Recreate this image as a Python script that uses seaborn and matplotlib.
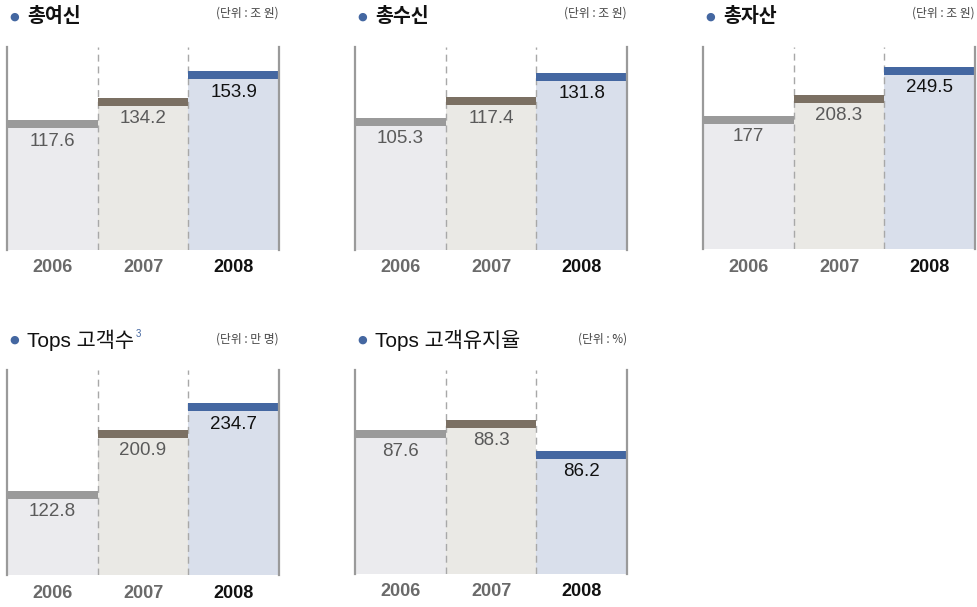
import numpy as np
import pandas as pd
import seaborn as sns
import matplotlib.pyplot as plt
from matplotlib.transforms import offset_copy

# ------------------------------------------------
# Data

years = ['2006', '2007', '2008']
loans = [117.6, 134.2, 153.9]          # 총여신
deposits = [105.3, 117.4, 131.8]       # 총수신
assets = [177, 208.3, 249.5]           # 총자산
tops_customers = [122.8, 200.9, 234.7]  # Tops 고객수
tops_retention = [87.6, 88.3, 86.2]    # Tops 고객유지율

titles = ['총여신', '총수신', '총자산', 'Tops 고객수', 'Tops 고객유지율']
units = ['(단위 : 조 원)', '(단위 : 조 원)', '(단위 : 조 원)', '(단위 : 만 명)', '(단위 : %)']

# ------------------------------------------------
# Style

fill_colors = ['#ebebee', '#eae9e5', '#d9dfeb']
strip_colors = ['#9a9a9a', '#7b7063', '#4467a1']
year_colors = ['#6a6a6a', '#6a6a6a', '#111111']
value_colors = ['#5a5a5a', '#5a5a5a', '#111111']
blue = '#4467a1'
latin = ['Liberation Sans', 'Noto Sans CJK KR', 'DejaVu Sans']

sns.set_style('white')
plt.rcParams['font.family'] = ['Noto Sans CJK KR', 'DejaVu Sans']

W, H = 977, 607
fig = plt.figure(figsize=(W / 100, H / 100), dpi=100)

# panel layout in pixels: (left, top, bottom), ylim
panels = [
    (loans, 7, 47, 250, (21.1, 171.9), True),
    (deposits, 355, 47, 250, (28.1, 146.8), True),
    (assets, 703, 47, 249, (-19.7, 278.8), True),
    (tops_customers, 7, 370, 575, (15.5, 277.1), False),
    (tops_retention, 355, 370, 574, (77.88, 91.66), False),
]
panel_w = 272


def draw_panel(i, values, left, top, bottom, ylim, bold_title):
    ax = fig.add_axes([left / W, (H - bottom) / H, panel_w / W, (bottom - top) / H])
    df = pd.DataFrame({'year': years, 'value': values})
    sns.barplot(data=df, x='year', y='value', hue='year', palette=fill_colors,
                width=1.0, legend=False, saturation=1, ax=ax, zorder=1)
    ymin, ymax = ylim
    for p in ax.patches:
        h = p.get_height()
        p.set_y(ymin)
        p.set_height(h - ymin)
        p.set_linewidth(0)
    ax.set_ylim(ymin, ymax)
    ax.set_xlim(-0.5, 2.5)

    # dashed separators
    for x in [0.5, 1.5]:
        ax.axvline(x, color='#a8a8a8', lw=1.0, ls=(0, (5, 3.5)), zorder=2)

    # top strips
    strip_tr = offset_copy(ax.transData, fig=fig, x=0, y=-4, units='dots')
    xs = np.arange(len(values))
    ax.hlines(values, xs - 0.5, xs + 0.5, colors=strip_colors, lw=8 * 0.72,
              transform=strip_tr, capstyle='butt', zorder=3)

    for k, v in enumerate(values):
        ax.annotate(f'{v:g}', (k, v), xytext=(0, -21), textcoords='offset pixels',
                    ha='center', va='center', fontsize=13.5, family=latin,
                    color=value_colors[k], zorder=4)
        ax.annotate(years[k], (k, ymin), xytext=(0, -18), textcoords='offset pixels',
                    ha='center', va='center', fontsize=13, fontweight='bold',
                    family=latin, color=year_colors[k], annotation_clip=False)

    ax.set_xticks([])
    ax.set_yticks([])
    ax.set_xlabel('')
    ax.set_ylabel('')
    for side in ['top', 'bottom']:
        ax.spines[side].set_visible(False)
    for side in ['left', 'right']:
        ax.spines[side].set_color('#9a9a9a')
        ax.spines[side].set_linewidth(1.6)
        ax.spines[side].set_zorder(5)

    # title and unit
    ty = 17 if top < 200 else 340
    uy = 13 if top < 200 else 339
    fig.text((left + 7) / W, (H - ty) / H, '●', color=blue, fontsize=8,
             ha='center', va='center', family=['DejaVu Sans'])
    if bold_title:
        t = fig.text((left + 20) / W, (H - ty) / H, titles[i], color='#111111',
                     fontsize=14, ha='left', va='center', fontweight='bold')
    else:
        t = fig.text((left + 20) / W, (H - ty) / H, titles[i], color='#111111',
                     fontsize=15, ha='left', va='center', family=latin)
    fig.text((left + panel_w) / W, (H - uy) / H, units[i], color='#444444',
             fontsize=8.5, ha='right', va='center', fontweight='light')
    return ax, t


for i, (vals, left, top, bottom, ylim, bold) in enumerate(panels):
    ax, t = draw_panel(i, vals, left, top, bottom, ylim, bold)
    if i == 3:
        # superscript footnote mark
        fig.canvas.draw()
        bb = t.get_window_extent()
        fig.text((bb.x1 + 2) / W, (H - 334) / H, '3', color=blue, fontsize=7,
                 ha='left', va='center', family=latin)

fig.savefig('out.png', dpi=100)
